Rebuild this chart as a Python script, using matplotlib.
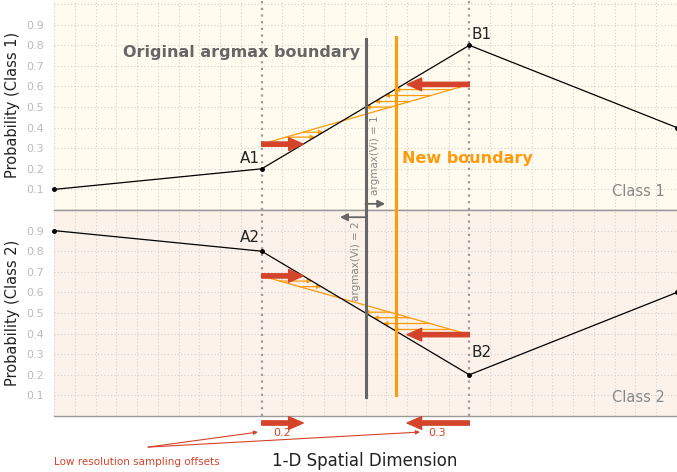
import matplotlib
matplotlib.use('Agg')
import matplotlib.pyplot as plt
from matplotlib.patches import FancyArrowPatch
import numpy as np

# ---------------- data ----------------
x_pos = [0, 1, 2, 3]
class1 = [0.1, 0.2, 0.8, 0.4]
class2 = [0.9, 0.8, 0.2, 0.6]
offset_a = 0.2          # sampling offset at A (to the right)
offset_b = 0.3          # sampling offset at B (to the left)
orig_boundary = 1.5
new_boundary = 1.645
orange1 = [0.32, 0.61]  # values sampled with offsets (class 1) at A1, B1
orange2 = [0.68, 0.395] # values sampled with offsets (class 2) at A2, B2
small1_a = [0.354, 0.378]
small1_b = [0.5, 0.527, 0.556, 0.585]
small2_a = [0.655, 0.628]
small2_b = [0.504, 0.477, 0.449, 0.42]
yticks = [0.1, 0.2, 0.3, 0.4, 0.5, 0.6, 0.7, 0.8, 0.9]
ytick_labels = ['0.1', '0.2', '0.3', '0.4', '0.5', '0.6', '0.7', '0.8', '0.9']

# ---------------- style ----------------
RED = '#d4442a'
ORANGE = '#ff9a0a'
GRAY = '#666666'
BG1 = '#fffbee'
BG2 = '#fdf2ea'

fig = plt.figure(figsize=(6.77, 4.72), dpi=100)
W, H = 677, 472
left = 54 / W
ax1 = fig.add_axes([left, (H - 210) / H, 1 - left, 210 / H])
ax2 = fig.add_axes([left, (H - 416) / H, 1 - left, 206 / H])

for ax, ylim in ((ax1, (0, 1.02)), (ax2, (0, 1.0))):
    ax.set_xlim(0, 3)
    ax.set_ylim(*ylim)
    for s in ('top', 'left', 'right'):
        ax.spines[s].set_visible(False)
    ax.spines['bottom'].set_color('#9a9a9a')
    ax.spines['bottom'].set_linewidth(1.0)
    ax.set_xticks([])
    ax.set_yticks(yticks)
    ax.set_yticklabels(ytick_labels)
    ax.tick_params(axis='y', length=0, pad=7, labelsize=8, labelcolor='#bbbbbb')
    # grid
    for gx in np.arange(0, 3.001, 0.1):
        if abs(gx - 1) < 1e-6 or abs(gx - 2) < 1e-6:
            continue
        ax.axvline(gx, color='#d2d2d2', lw=0.8, ls=(0, (1, 2)), zorder=0)
    for gy in np.arange(0.1, 1.001, 0.1):
        ax.axhline(gy, color='#d2d2d2', lw=0.8, ls=(0, (1, 2)), zorder=0)
    ax.axvline(1, color='#9a9a9a', lw=1.6, ls=(0, (1, 2)), zorder=1)
    ax.axvline(2, color='#9a9a9a', lw=1.6, ls=(0, (1, 2)), zorder=1)

ax2.spines['top'].set_visible(True)
ax2.spines['top'].set_color('#9a9a9a')
ax2.spines['top'].set_linewidth(1.0)

ax1.set_facecolor(BG1)
ax2.set_facecolor(BG2)

ax1.set_ylabel('Probability (Class 1)', fontsize=10.5, color='#222222', labelpad=5)
ax2.set_ylabel('Probability (Class 2)', fontsize=10.5, color='#222222', labelpad=5)


def red_arrow(ax, x0, x1, y, clip=True):
    p = FancyArrowPatch((x0, y), (x1, y),
                        arrowstyle='simple,head_length=0.75,head_width=0.65,tail_width=0.22',
                        mutation_scale=14, color=RED, shrinkA=0, shrinkB=0,
                        zorder=6, clip_on=clip)
    ax.add_patch(p)


def small_arrow(ax, x0, x1, y):
    ax.annotate('', xy=(x1, y), xytext=(x0, y),
                arrowprops=dict(arrowstyle='-|>', color=ORANGE, lw=0.9,
                                mutation_scale=6, shrinkA=0, shrinkB=0),
                zorder=4)


# ---------------- class 1 ----------------
ax1.plot(x_pos, class1, color='black', lw=0.9, marker='o', ms=2.5, zorder=5, clip_on=False)
ax1.plot([1, 2], orange1, color=ORANGE, lw=0.9, zorder=4)
for lvl in small1_a + small1_b:
    xo = np.interp(lvl, orange1, [1, 2])
    xb = np.interp(lvl, class1[1:3], [1, 2])
    small_arrow(ax1, xo, xb, lvl)
red_arrow(ax1, 1, 1 + offset_a, orange1[0])
red_arrow(ax1, 2, 2 - offset_b, orange1[1])

ax1.plot([orig_boundary] * 2, [0, 0.83], color=GRAY, lw=2.2, zorder=7)
ax1.plot([new_boundary] * 2, [0, 0.84], color=ORANGE, lw=2.2, zorder=7)
ax1.annotate('', xy=(1.595, 0.03), xytext=(orig_boundary, 0.03),
             arrowprops=dict(arrowstyle='-|>', color=GRAY, lw=1.3,
                             mutation_scale=11, shrinkA=0, shrinkB=0), zorder=7)

ax1.text(0.99, 0.215, 'A1', ha='right', va='bottom', fontsize=11, color='#222222')
ax1.text(2.01, 0.815, 'B1', ha='left', va='bottom', fontsize=11, color='#222222')
ax1.text(1.475, 0.765, 'Original argmax boundary', ha='right', va='center',
         fontsize=11.5, fontweight='bold', color=GRAY)
ax1.text(1.675, 0.25, 'New boundary', ha='left', va='center',
         fontsize=11.5, fontweight='bold', color=ORANGE)
ax1.text(1.548, 0.265, 'argmax(Vi) = 1', rotation=90, ha='center', va='center',
         fontsize=7.5, color='#888888')
ax1.text(2.94, 0.09, 'Class 1', ha='right', va='center', fontsize=10.5, color='#888888')

# ---------------- class 2 ----------------
ax2.plot(x_pos, class2, color='black', lw=0.9, marker='o', ms=2.5, zorder=5, clip_on=False)
ax2.plot([1, 2], orange2, color=ORANGE, lw=0.9, zorder=4)
for lvl in small2_a + small2_b:
    xo = np.interp(lvl, orange2[::-1], [2, 1])
    xb = np.interp(lvl, class2[2:0:-1], [2, 1])
    small_arrow(ax2, xo, xb, lvl)
red_arrow(ax2, 1, 1 + offset_a, orange2[0])
red_arrow(ax2, 2, 2 - offset_b, orange2[1])

ax2.plot([orig_boundary] * 2, [0.09, 1.02], color=GRAY, lw=2.2, zorder=7, clip_on=False)
ax2.plot([new_boundary] * 2, [0.1, 1.02], color=ORANGE, lw=2.2, zorder=7, clip_on=False)
ax2.annotate('', xy=(1.377, 0.965), xytext=(orig_boundary, 0.965),
             arrowprops=dict(arrowstyle='-|>', color=GRAY, lw=1.3,
                             mutation_scale=11, shrinkA=0, shrinkB=0), zorder=7)

ax2.text(0.99, 0.83, 'A2', ha='right', va='bottom', fontsize=11, color='#222222')
ax2.text(2.01, 0.31, 'B2', ha='left', va='center', fontsize=11, color='#222222')
ax2.text(1.452, 0.75, 'argmax(Vi) = 2', rotation=90, ha='center', va='center',
         fontsize=7.5, color='#888888')
ax2.text(2.94, 0.088, 'Class 2', ha='right', va='center', fontsize=10.5, color='#888888')

# ---------------- below the axes ----------------
red_arrow(ax2, 1, 1 + offset_a, -0.034, clip=False)
red_arrow(ax2, 2, 2 - offset_b, -0.034, clip=False)
ax2.text(1.098, -0.083, str(offset_a), ha='center', va='center', fontsize=8, color=RED,
         clip_on=False)
ax2.text(1.845, -0.083, str(offset_b), ha='center', va='center', fontsize=8, color=RED,
         clip_on=False)
for xe in (0.982, 1.762):
    ax2.annotate('', xy=(xe, -0.078), xytext=(0.453, -0.151),
                 arrowprops=dict(arrowstyle='-|>', color=RED, lw=0.8,
                                 mutation_scale=6, shrinkA=0, shrinkB=0),
                 annotation_clip=False)
ax2.text(0.40, -0.224, 'Low resolution sampling offsets', ha='center', va='center',
         fontsize=7.5, color=RED, clip_on=False)

fig.text(365 / W, 1 - 461 / H, '1-D Spatial Dimension', ha='center', va='center',
         fontsize=12, color='#222222')

fig.savefig('out.png', dpi=100)
